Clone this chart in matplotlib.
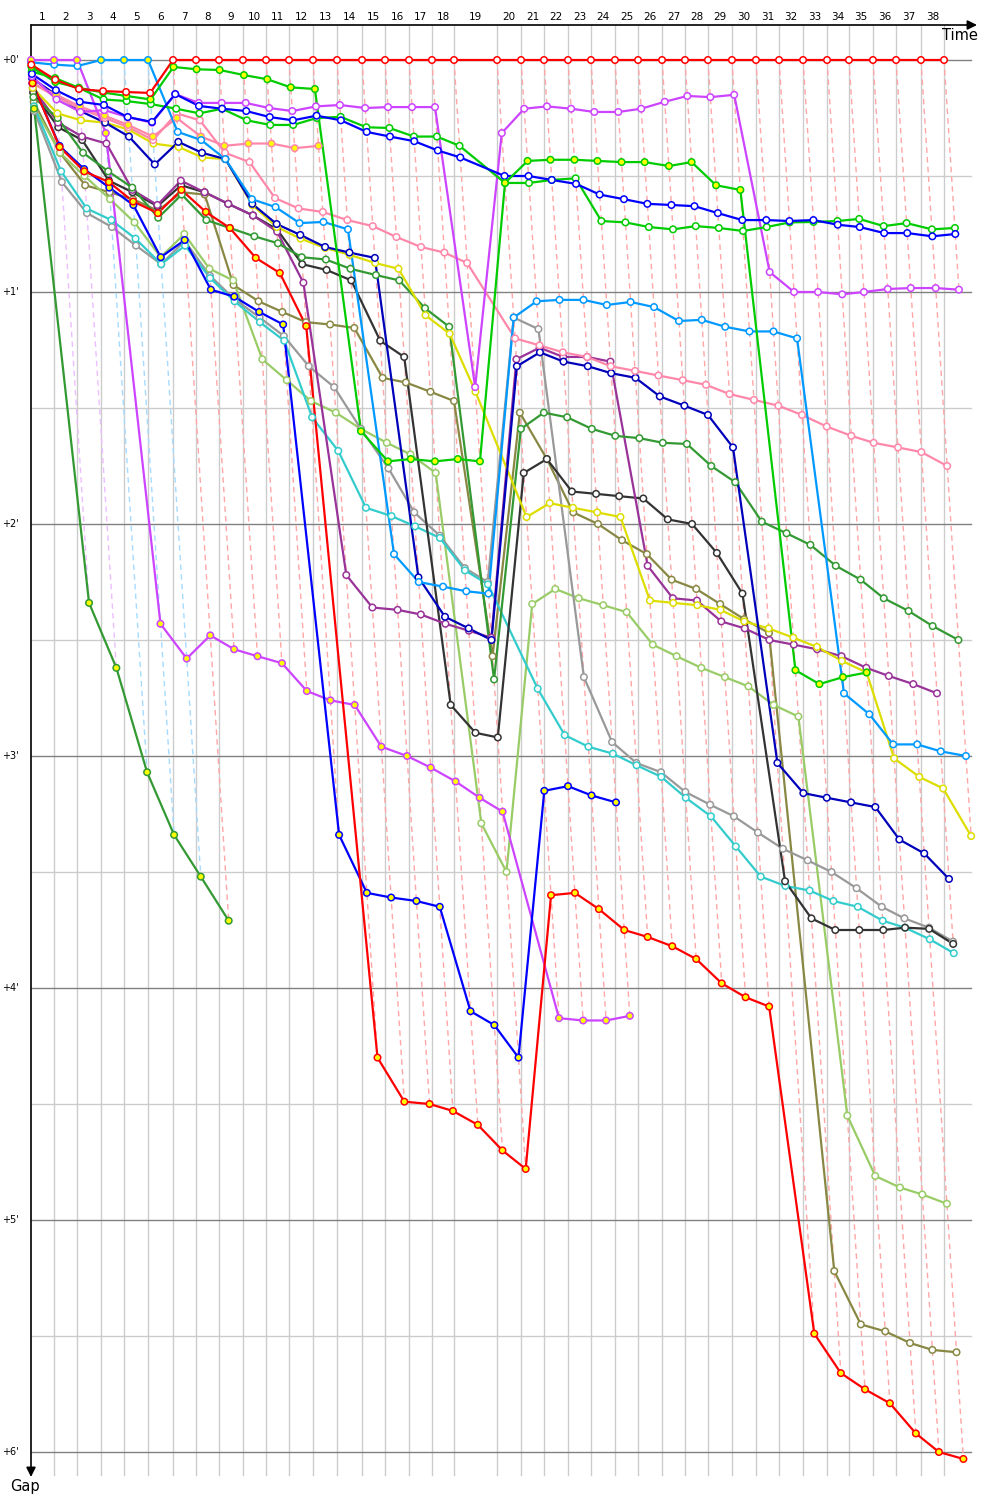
import matplotlib.pyplot as plt
from matplotlib.colors import to_rgb

# leader's cumulative time (minutes) at the end of laps 0..38
leader_t = [0.00, 1.53, 3.07, 4.67, 6.20, 7.80, 9.47, 11.00, 12.53, 14.13,
            15.67, 17.20, 18.80, 20.40, 22.07, 23.60, 25.20, 26.73, 28.20, 31.07,
            32.67, 34.20, 35.80, 37.33, 38.93, 40.47, 42.07, 43.60, 45.13, 46.73,
            48.33, 49.87, 51.47, 53.07, 54.53, 56.13, 57.67, 59.33, 60.87]
lap_labels = [str(i) for i in range(1, 39)]
gap_ticks = [0, 1, 2, 3, 4, 5, 6]

# gap to the leader (minutes), one value per lap from lap 0
red = [0.02, 0.085, 0.125, 0.134, 0.138, 0.142] + [0.0] * 33
green_a = [0.03, 0.095, 0.12, 0.14, 0.155, 0.17, 0.03, 0.04, 0.043, 0.065, 0.083, 0.118, 0.125,
           1.6, 1.73, 1.72, 1.73, 1.72, 1.73, 0.53, 0.435, 0.43, 0.43, 0.435, 0.44, 0.44,
           0.457, 0.44, 0.54, 0.56, 2.63, 2.69, 2.66, 2.64]
green_b = [0.05, 0.078, 0.12, 0.17, 0.177, 0.19, 0.21, 0.23, 0.21, 0.26, 0.28, 0.28, 0.25,
           0.245, 0.29, 0.293, 0.33, 0.33, 0.37, 0.53, 0.53, 0.517, 0.51, 0.694, 0.70, 0.72,
           0.73, 0.716, 0.724, 0.737, 0.72, 0.70, 0.698, 0.694, 0.685, 0.716, 0.703, 0.73, 0.724]
blue = [0.06, 0.13, 0.18, 0.194, 0.246, 0.267, 0.147, 0.198, 0.21, 0.22, 0.246, 0.26, 0.24,
        0.26, 0.31, 0.33, 0.35, 0.39, 0.42, 0.5, 0.5, 0.517, 0.534, 0.58, 0.6, 0.62, 0.625,
        0.63, 0.66, 0.69, 0.69, 0.694, 0.69, 0.71, 0.72, 0.746, 0.746, 0.76, 0.75]
violet = [0.07, 0.17, 0.224, 0.216, 0.246, 0.27, 0.147, 0.185, 0.185, 0.185, 0.207, 0.22, 0.2,
          0.194, 0.207, 0.203, 0.203, 0.203, 1.41, 0.315, 0.21, 0.2, 0.21, 0.224, 0.224, 0.21,
          0.18, 0.155, 0.16, 0.15, 0.914, 1.0, 1.0, 1.01, 1.0, 0.987, 0.983, 0.983, 0.99]
pink = [0.1, 0.16, 0.21, 0.25, 0.29, 0.345, 0.23, 0.26, 0.4, 0.44, 0.595, 0.64, 0.655, 0.69,
        0.716, 0.763, 0.806, 0.83, 0.875, 1.2, 1.23, 1.26, 1.28, 1.32, 1.34, 1.36, 1.38, 1.4,
        1.44, 1.465, 1.49, 1.53, 1.58, 1.62, 1.65, 1.67, 1.69, 1.75]
pink_y = [0.1, 0.15, 0.2, 0.24, 0.28, 0.33, 0.25, 0.33, 0.37, 0.36, 0.36, 0.38, 0.37]
sky = [0.01, 0.02, 0.026, 0.0, 0.0, 0.0, 0.31, 0.345, 0.427, 0.6, 0.634, 0.703, 0.698, 0.73,
       2.13, 2.25, 2.27, 2.29, 2.3, 1.11, 1.04, 1.034, 1.034, 1.056, 1.043, 1.065, 1.125, 1.12,
       1.15, 1.17, 1.17, 1.2, 2.73, 2.82, 2.95, 2.95, 2.98, 3.0]
violet_y = [0.0, 0.0, 0.0, 0.315, 2.43, 2.58, 2.48, 2.54, 2.57, 2.6, 2.72, 2.76, 2.78, 2.96,
            3.0, 3.05, 3.11, 3.18, 3.24, 4.13, 4.14, 4.14, 4.12]
forest_y = [0.21, 2.34, 2.62, 3.07, 3.34, 3.52, 3.71]
red_b = [0.1, 0.375, 0.48, 0.526, 0.61, 0.66, 0.56, 0.655, 0.724, 0.853, 0.918, 1.147, 4.3,
         4.49, 4.5, 4.53, 4.59, 4.7, 4.78, 3.6, 3.59, 3.66, 3.75, 3.78, 3.82, 3.875, 3.98,
         4.04, 4.08, 5.49, 5.66, 5.73, 5.79, 5.92, 6.0, 6.03]
blue_b = [0.1, 0.37, 0.47, 0.55, 0.625, 0.85, 0.776, 0.99, 1.02, 1.086, 1.14, 3.34, 3.59,
          3.61, 3.625, 3.65, 4.1, 4.16, 4.3, 3.15, 3.13, 3.17, 3.2]
cyan = [0.2, 0.48, 0.64, 0.69, 0.77, 0.88, 0.8, 0.94, 1.04, 1.13, 1.21, 1.54, 1.685, 1.93,
        1.966, 2.01, 2.06, 2.2, 2.26, 2.71, 2.91, 2.96, 2.99, 3.04, 3.09, 3.18, 3.26, 3.39,
        3.52, 3.56, 3.58, 3.625, 3.65, 3.71, 3.74, 3.79, 3.85]
grey = [0.22, 0.526, 0.66, 0.72, 0.8, 0.88, 0.78, 0.93, 1.03, 1.11, 1.19, 1.32, 1.41, 1.59,
        1.76, 1.95, 2.05, 2.19, 2.25, 1.11, 1.16, 2.66, 2.94, 3.03, 3.07, 3.155, 3.21, 3.26,
        3.33, 3.4, 3.45, 3.5, 3.57, 3.65, 3.7, 3.74, 3.8]
lime = [0.2, 0.4, 0.5, 0.6, 0.7, 0.85, 0.75, 0.9, 0.95, 1.29, 1.38, 1.47, 1.52, 1.59, 1.65,
        1.7, 1.78, 3.29, 3.5, 2.345, 2.28, 2.32, 2.35, 2.38, 2.52, 2.57, 2.62, 2.66, 2.7,
        2.78, 2.83, 4.55, 4.81, 4.86, 4.89, 4.93]
olive = [0.18, 0.4, 0.54, 0.57, 0.6, 0.65, 0.57, 0.58, 0.97, 1.04, 1.086, 1.13, 1.14, 1.155,
         1.37, 1.39, 1.43, 1.47, 2.57, 1.52, 1.72, 1.95, 2.0, 2.07, 2.13, 2.24, 2.28, 2.345,
         2.41, 2.47, 5.22, 5.45, 5.48, 5.53, 5.56, 5.57]
black = [0.14, 0.29, 0.345, 0.52, 0.57, 0.63, 0.54, 0.57, 0.62, 0.67, 0.73, 0.88, 0.905, 0.95,
         1.21, 1.28, 2.78, 2.9, 2.92, 1.78, 1.72, 1.86, 1.87, 1.88, 1.89, 1.98, 2.0, 2.125,
         2.3, 3.54, 3.7, 3.75, 3.75, 3.75, 3.74, 3.745, 3.81]
navy = [0.08, 0.15, 0.22, 0.27, 0.33, 0.45, 0.353, 0.4, 0.427, 0.62, 0.707, 0.754, 0.806,
        0.83, 0.853, 2.23, 2.4, 2.45, 2.5, 1.32, 1.26, 1.3, 1.32, 1.35, 1.37, 1.45, 1.49, 1.53,
        1.67, 3.03, 3.16, 3.18, 3.2, 3.22, 3.36, 3.42, 3.53]
plum = [0.12, 0.27, 0.33, 0.36, 0.56, 0.625, 0.52, 0.57, 0.62, 0.67, 0.74, 0.96, 2.22, 2.36,
        2.37, 2.39, 2.43, 2.46, 2.49, 1.29, 1.24, 1.28, 1.28, 1.3, 2.18, 2.32, 2.33, 2.42,
        2.45, 2.5, 2.52, 2.54, 2.57, 2.62, 2.655, 2.69, 2.73]
yellow = [0.12, 0.23, 0.26, 0.27, 0.3, 0.36, 0.375, 0.42, 0.427, 0.625, 0.72, 0.77, 0.81,
          0.84, 0.875, 0.9, 1.1, 1.18, 1.43, 1.97, 1.91, 1.93, 1.95, 1.97, 2.33, 2.34, 2.35,
          2.37, 2.42, 2.45, 2.49, 2.53, 2.59, 2.64, 3.01, 3.09, 3.14, 3.345]
forest = [0.16, 0.25, 0.4, 0.48, 0.55, 0.68, 0.58, 0.69, 0.724, 0.76, 0.79, 0.85, 0.86, 0.9,
          0.927, 0.95, 1.07, 1.15, 2.67, 1.59, 1.52, 1.54, 1.59, 1.62, 1.63, 1.65, 1.655,
          1.75, 1.82, 1.99, 2.04, 2.09, 2.18, 2.24, 2.32, 2.375, 2.44, 2.5]

sky_yellow_laps = [3, 4, 5]

riders = [
    (olive, '#888844', 'white'), (lime, '#99cc66', 'white'), (grey, '#999999', 'white'),
    (cyan, '#33cccc', 'white'), (black, '#333333', 'white'), (plum, '#993399', 'white'),
    (forest, '#339933', 'white'), (yellow, '#dddd00', 'white'), (navy, '#0000bb', 'white'),
    (pink, '#ff88aa', 'white'), (pink_y, '#ff88aa', '#ffff00'), (sky, '#0099ff', 'white'),
    (forest_y, '#339933', '#ffff00'), (violet_y, '#cc44ff', '#ffff00'),
    (blue_b, '#0000ff', '#ffff00'), (red_b, '#ff0000', '#ffff00'),
    (violet, '#cc44ff', 'white'), (green_b, '#00cc00', 'white'), (blue, '#0000ff', 'white'),
    (green_a, '#00cc00', '#ffff00'), (red, '#ff0000', 'white'),
]

fig = plt.figure(figsize=(10, 15), dpi=100)
ax = fig.add_axes([0, 0, 1, 1])
ax.set_xlim(-31 / 15, 969 / 15)
ax.set_ylim(1440 / 232, -60 / 232)
ax.axis('off')

y_top = -35 / 232
y_bot = 1415 / 232
x_end = 940 / 15

# grid
for t in leader_t[1:]:
    ax.plot([t, t], [y_top, y_bot], color='#cccccc', lw=1, zorder=1)
for g in range(13):
    ax.plot([0, x_end], [g / 2, g / 2], color='#808080' if g % 2 == 0 else '#cccccc',
            lw=1, zorder=1)

# lap lines, in the colour of that lap's leader
def light(c, a=0.35):
    r, g, b = to_rgb(c)
    return (1 - a + a * r, 1 - a + a * g, 1 - a + a * b)

for k in range(1, len(leader_t)):
    on_lap = [(gaps[k], col) for gaps, col, _ in riders if len(gaps) > k]
    lead_col = min(on_lap)[1]
    gmax = max(g for g, _ in on_lap)
    ax.plot([leader_t[k], leader_t[k] + gmax], [0, gmax], color=light(lead_col),
            lw=1, ls=(0, (4, 3)), zorder=2)

# riders
for gaps, col, fill in riders:
    xs = [leader_t[i] + g for i, g in enumerate(gaps)]
    ax.plot(xs, gaps, color=col, lw=1.6, zorder=3)
    fills = [fill] * len(gaps)
    if gaps is sky:
        for i in sky_yellow_laps:
            fills[i] = '#ffff00'
    ax.scatter(xs, gaps, s=22, c=fills, edgecolors=col, linewidths=1.1, zorder=4)

# axes with arrows
ax.annotate('', xy=(946 / 15, y_top), xytext=(0, y_top),
            arrowprops=dict(arrowstyle='-|>', color='black', lw=1.2, mutation_scale=14,
                            shrinkA=0, shrinkB=0))
ax.annotate('', xy=(0, 1417 / 232), xytext=(0, y_top),
            arrowprops=dict(arrowstyle='-|>', color='black', lw=1.2, mutation_scale=14,
                            shrinkA=0, shrinkB=0))
ax.text(929 / 15, -25 / 232, 'Time', fontsize=10.5, ha='center', va='center')
ax.text(-6 / 15, 1426 / 232, 'Gap', fontsize=10.5, ha='center', va='center')

for k, lab in enumerate(lap_labels, start=1):
    ax.text((leader_t[k - 1] + leader_t[k]) / 2, -43 / 232, lab, fontsize=7.5,
            ha='center', va='center')
for g in gap_ticks:
    ax.text(-12 / 15, g, "+%d'" % g, fontsize=7, ha='right', va='center')

fig.savefig('out.png', dpi=100)
